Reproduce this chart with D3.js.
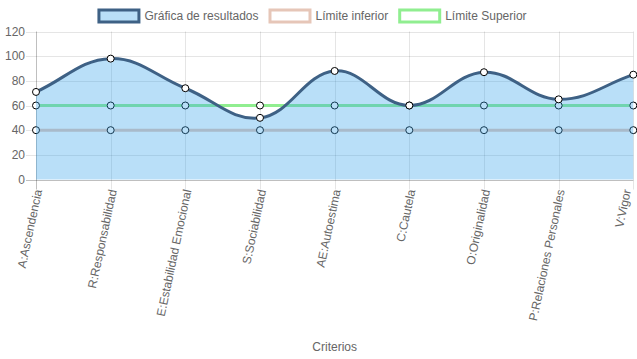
<!DOCTYPE html>
<html><head><meta charset="utf-8">
<script src="https://cdn.jsdelivr.net/npm/d3@7"></script>
<style>html,body{margin:0;padding:0;background:#fff;}svg{display:block;font-family:"Liberation Sans",Arial,Helvetica,sans-serif;}</style>
</head><body>
<svg id="c" width="637" height="359"></svg>
<script>
const categories = ["A:Ascendencia","R:Responsabilidad","E:Estabilidad Emocional","S:Sociabilidad","AE:Autoestima","C:Cautela","O:Originalidad","P:Relaciones Personales","V:Vigor"];
const resultados = [71, 98, 74, 50, 88, 60, 87, 65, 85];
const limiteInferior = [40, 40, 40, 40, 40, 40, 40, 40, 40];
const limiteSuperior = [60, 60, 60, 60, 60, 60, 60, 60, 60];
const yTicks = [0, 20, 40, 60, 80, 100, 120];
const legendLabels = ["Gráfica de resultados", "Límite inferior", "Límite Superior"];
const xTitle = "Criterios";

const svg = d3.select("#c");
const L = 36, R = 633.3, T = 31.5, B = 179.5;
const x = d3.scalePoint().domain(categories).range([L, R]);
const y = d3.scaleLinear().domain([0, 120]).range([B, T]);
const txt = "#666";

// grid
const g = svg.append("g");
yTicks.forEach(v => {
  g.append("line").attr("x1", L - 10).attr("x2", R).attr("y1", Math.round(y(v)) + 0.5).attr("y2", Math.round(y(v)) + 0.5)
    .attr("stroke", v === 0 ? "rgba(0,0,0,0.25)" : "rgba(0,0,0,0.1)").attr("stroke-width", 1);
  g.append("text").attr("x", L - 11).attr("y", y(v)).attr("dy", "0.35em").attr("text-anchor", "end")
    .attr("font-size", 12).attr("fill", txt).text(v);
});
categories.forEach((c, i) => {
  const xx = Math.round(x(c)) + 0.5;
  g.append("line").attr("x1", xx).attr("x2", xx).attr("y1", T).attr("y2", B + 10)
    .attr("stroke", i === 0 ? "rgba(0,0,0,0.25)" : "rgba(0,0,0,0.1)").attr("stroke-width", 1);
  const t = g.append("text").attr("transform", `translate(${x(c) + 2},${B + 10}) rotate(-78)`)
    .attr("dy", "0.35em").attr("text-anchor", "end").attr("font-size", 12).attr("fill", txt).text(c);
  const bb = t.node().getBoundingClientRect();
  if (bb.right > 634) {
    t.attr("transform", `translate(${x(c) + 2 - (bb.right - 634)},${B + 10}) rotate(-78)`);
  }
});

// Chart.js-like spline
function spline(vals) {
  const pts = vals.map((v, i) => ({x: x(categories[i]), y: y(v)}));
  const t = 0.4;
  pts.forEach((p, i) => {
    const prev = pts[i - 1] || p, next = pts[i + 1] || p;
    const d01 = Math.hypot(p.x - prev.x, p.y - prev.y), d12 = Math.hypot(next.x - p.x, next.y - p.y);
    let s01 = d01 / (d01 + d12), s12 = d12 / (d01 + d12);
    if (isNaN(s01)) s01 = 0; if (isNaN(s12)) s12 = 0;
    const fa = t * s01, fb = t * s12;
    p.cp1 = {x: p.x - fa * (next.x - prev.x), y: Math.max(T, Math.min(B, p.y - fa * (next.y - prev.y)))};
    p.cp2 = {x: p.x + fb * (next.x - prev.x), y: Math.max(T, Math.min(B, p.y + fb * (next.y - prev.y)))};
  });
  const path = d3.path();
  path.moveTo(pts[0].x, pts[0].y);
  for (let i = 1; i < pts.length; i++) {
    path.bezierCurveTo(pts[i - 1].cp2.x, pts[i - 1].cp2.y, pts[i].cp1.x, pts[i].cp1.y, pts[i].x, pts[i].y);
  }
  return {d: path.toString(), pts};
}

const lowColor = "rgb(230,198,184)", upColor = "rgb(144,238,144)", resColor = "#3e6185", fillColor = "rgba(54,162,235,0.35)";

function drawSeries(vals, color) {
  const s = spline(vals);
  svg.append("path").attr("d", s.d).attr("fill", "none").attr("stroke", color).attr("stroke-width", 3);
  s.pts.forEach(p => svg.append("circle").attr("cx", p.x).attr("cy", p.y).attr("r", 3.5)
    .attr("fill", "#fff").attr("stroke", "#000").attr("stroke-width", 1));
}
drawSeries(limiteInferior, lowColor);
drawSeries(limiteSuperior, upColor);

const sr = spline(resultados);
svg.append("path").attr("d", sr.d + `L${R},${B}L${L},${B}Z`).attr("fill", fillColor).attr("stroke", "none");
svg.append("path").attr("d", sr.d).attr("fill", "none").attr("stroke", resColor).attr("stroke-width", 3);
sr.pts.forEach(p => svg.append("circle").attr("cx", p.x).attr("cy", p.y).attr("r", 3.5)
  .attr("fill", "#fff").attr("stroke", "#000").attr("stroke-width", 1));

// x title
svg.append("text").attr("x", (L + R) / 2).attr("y", 351).attr("text-anchor", "middle").attr("font-size", 12).attr("fill", txt).text(xTitle);

// legend
const legStyles = [{fill: fillColor, stroke: resColor}, {fill: "#fff", stroke: lowColor}, {fill: "#fff", stroke: upColor}];
const lg = svg.append("g");
const items = legendLabels.map((lab, i) => {
  const it = lg.append("g");
  it.append("rect").attr("x", 1.5).attr("y", 10).attr("width", 40).attr("height", 12)
    .attr("fill", legStyles[i].fill).attr("stroke", legStyles[i].stroke).attr("stroke-width", 3);
  const t = it.append("text").attr("x", 47).attr("y", 16).attr("dy", "0.35em").attr("font-size", 12).attr("fill", txt).text(lab);
  return {it, w: 47 + t.node().getComputedTextLength()};
});
const total = d3.sum(items, d => d.w + 10);
let cx = (637 - total) / 2 - 1.5;
items.forEach(d => { d.it.attr("transform", `translate(${cx},0)`); cx += d.w + 10; });
</script>
</body></html>
